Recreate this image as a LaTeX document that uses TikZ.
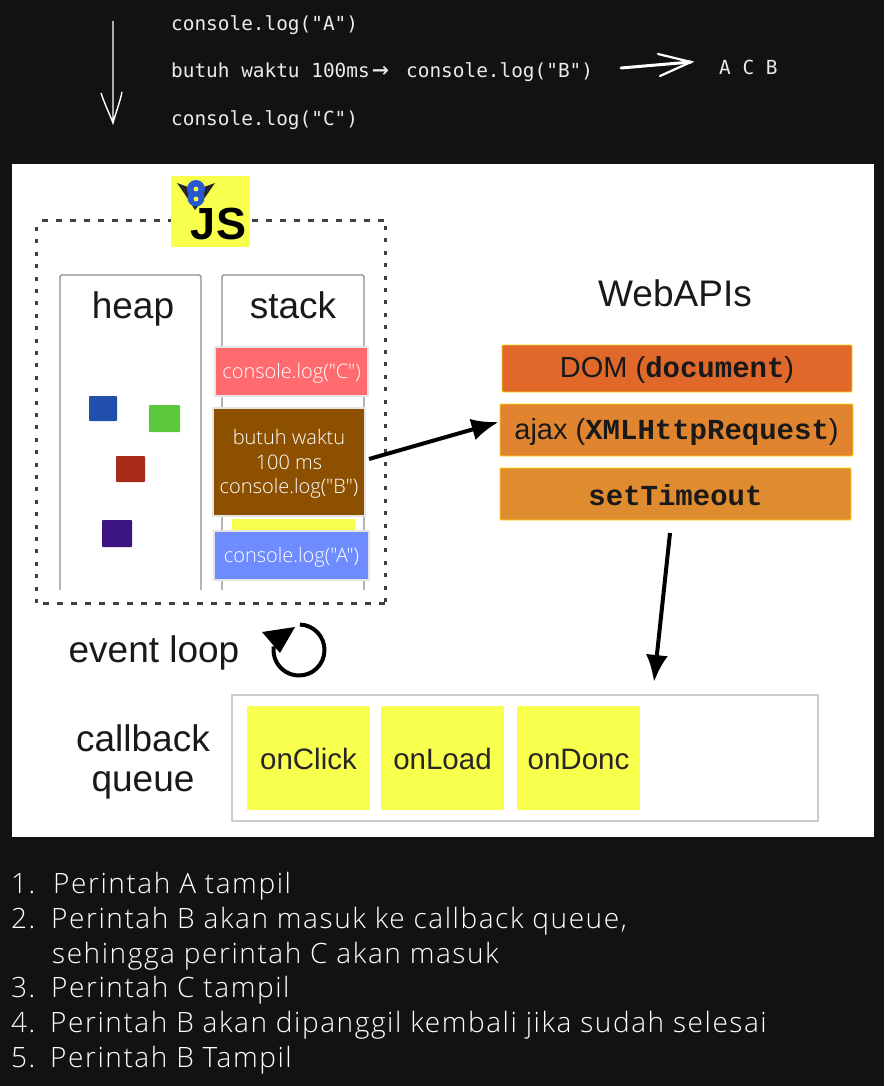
\documentclass[tikz,border=0pt]{standalone}
\usepackage{fontspec}
\setmainfont{Liberation Sans}
\newfontfamily\codefont{DejaVu Sans Mono}
\newfontfamily\hand[LetterSpace=5.6]{Open Sans Light}
\newfontfamily\handtight{Open Sans Light}
\newfontfamily\boldmono{Liberation Mono Bold}
\usetikzlibrary{arrows.meta}
\definecolor{bgdark}{HTML}{121212}
\definecolor{jsyellow}{HTML}{F8FF4C}
\definecolor{cred}{HTML}{FF6B6E}
\definecolor{cbrown}{HTML}{8C5000}
\definecolor{cblue}{HTML}{6E8CFF}
\definecolor{apia}{HTML}{E0682A}
\definecolor{apib}{HTML}{E0842F}
\definecolor{apic}{HTML}{DF8B30}
\definecolor{sqblue}{HTML}{2050AC}
\definecolor{sqgreen}{HTML}{5CC83C}
\definecolor{sqred}{HTML}{A82A18}
\definecolor{sqviolet}{HTML}{3C1480}
\definecolor{batblue}{HTML}{2858D0}
\tikzset{
  code/.style={anchor=base west,text=white!92!black,font=\codefont\fontsize{19.4}{22}\selectfont,inner sep=0pt},
  hw/.style={anchor=base west,text=white,font=\hand\fontsize{28}{32}\selectfont,inner sep=0pt},
  lab/.style={text=black!90,inner sep=0pt,anchor=base,font=\fontsize{37}{38}\selectfont},
  stackbox/.style={draw=black!10,line width=1.5pt,inner sep=0pt},
  stacktext/.style={text=white,align=center,inner sep=0pt,font=\handtight\fontsize{20}{24.5}\selectfont},
  api/.style={draw=yellow!75!orange,line width=.8pt,rounded corners=1pt,inner sep=0pt},
  apitext/.style={text=black!90,inner sep=0pt,font=\fontsize{29}{30}\selectfont},
  cb/.style={fill=jsyellow,inner sep=0pt,text=black!85,font=\fontsize{29.5}{30}\selectfont},
  tile/.style={inner sep=0pt,rounded corners=.8pt},
  blk/.style={line width=4pt,draw=black,-{Latex[length=27pt,width=22pt]}}
}
\newcommand{\numbox}[1]{\makebox[#1pt][l]}
\begin{document}
\begin{tikzpicture}[x=1pt,y=-1pt]
\useasboundingbox (0,0) rectangle (884,1086);
\fill[bgdark] (0,0) rectangle (884,1086);
\fill[white] (12,164) rectangle (874,837);
% top
\node[code] (ca) at (171,30.5) {console.log("A")};
\node[code] (cb1) at (171,77.5) {butuh waktu 100ms};
\node[code,font=\codefont\fontsize{28}{28}\selectfont] (cb2) at (372,78.5) {→};
\node[code] (cb3) at (406,77.5) {console.log("B")};
\node[code] (cc) at (171,125.5) {console.log("C")};
\node[code] (res) at (719,75) {A C B};
\coordinate (t1) at (113,21); \coordinate (t2) at (113,123);
\draw[white,line width=1.4pt] (t1) -- (t2) (101,93) .. controls (105,105) and (110,115) .. (t2) .. controls (116,112) and (120,102) .. (122,92);
\coordinate (r1) at (621,68); \coordinate (r2) at (691,62);
\draw[white,line width=3pt,line cap=round] (r1) -- (r2);
\draw[white,line width=2.2pt,line cap=round] (658,54) -- (r2) -- (660,76);
% JS container
\draw[black!75,line width=3pt,dash pattern=on 6pt off 8pt] (42,220) -- (385,220);
\draw[black!75,line width=3pt,dash pattern=on 6pt off 8pt] (385,603) -- (36,603);
\draw[black!75,line width=3pt,dash pattern=on 4pt off 8.4pt] (36,603) -- (36,226);
\draw[black!75,line width=3pt,dash pattern=on 4pt off 8.4pt] (385,226) -- (385,603);
\node[fill=jsyellow,minimum width=79pt,minimum height=71pt,inner sep=0pt] (js) at (210.5,211.5) {};
\node[font=\bfseries\fontsize{45}{45}\selectfont,inner sep=0pt] (jst) at (218.5,224) {JS};
\fill[black!85] (177,183) -- (188,187) -- (204,187) -- (215,183) -- (206,196) -- (195,210) -- (186,196) -- cycle;
\fill[batblue] (196,189) circle (9pt) (196,198) circle (8.5pt);
\fill[jsyellow] (196,189) circle (2.4pt) (196,199) circle (2.4pt);
% heap and stack
\draw[black!45,line width=1.3pt,rounded corners=1.5pt] (60,590) |- (201,275) -- (201,590);
\draw[black!45,line width=1.3pt,rounded corners=1.5pt] (222,590) |- (364,275) -- (364,590);
\node[lab] (heap) at (133,318) {heap};
\node[lab] (stack) at (293,318) {stack};
\node[tile,fill=sqblue,minimum width=28pt,minimum height=25pt] (s1) at (103,408.5) {};
\node[tile,fill=sqgreen,minimum width=31pt,minimum height=27pt] (s2) at (164.5,418.5) {};
\node[tile,fill=sqred,minimum width=29pt,minimum height=26pt] (s3) at (130.5,469) {};
\node[tile,fill=sqviolet,minimum width=30pt,minimum height=27pt] (s4) at (117,533.5) {};
\node[stackbox,fill=cred,minimum width=153pt,minimum height=49pt] (sc) at (291.5,371.5) {};
\node[stacktext] (sct) at ([yshift=-2pt]sc.center) {console.log("C")};
\node[inner sep=0pt,fill=jsyellow,minimum width=123pt,minimum height=14pt] (sy) at (293.5,526) {};
\node[stackbox,fill=cbrown,minimum width=152pt,minimum height=108pt] (sb) at (289,462) {};
\node[stacktext] (sbt) at ([yshift=-2pt]sb.center) {butuh waktu\\100 ms\\console.log("B")};
\node[stackbox,fill=cblue,minimum width=155pt,minimum height=49pt] (sa) at (291.5,555.5) {};
\node[stacktext] (sat) at ([yshift=-2pt]sa.center) {console.log("A")};
% web apis
\node[lab] (web) at (675,306) {WebAPIs};
\node[api,fill=apia,minimum width=350pt,minimum height=47pt] (dom) at (677,368.5) {};
\node[apitext] (domt) at ([yshift=-1.5pt]dom.center) {DOM ({\boldmono document})};
\node[api,fill=apib,minimum width=353pt,minimum height=52pt] (ajax) at (676.5,430) {};
\node[apitext] (ajaxt) at ([yshift=-2pt]ajax.center) {ajax ({\boldmono XMLHttpRequest})};
\node[api,fill=apic,minimum width=351pt,minimum height=52pt] (st) at (675.5,494) {};
\node[apitext] (stt) at ([yshift=-1pt]st.center) {\boldmono setTimeout};
% event loop
\node[lab] (ev) at (154,662) {event loop};
\coordinate (loopc) at (299,650);
\draw[black,line width=4pt] (loopc) ++(88:25.5pt) arc[start angle=88,end angle=-188,radius=25.5pt];
\fill[black] (262,632) -- (295,627) -- (280,653) -- cycle;
% callback
\node[lab,align=center,font=\fontsize{37}{40}\selectfont,anchor=center] (cq) at (143,762) {callback\\queue};
\node[draw=black!20,line width=1.4pt,fill=white,minimum width=586pt,minimum height=126pt,inner sep=0pt] (qbox) at (525,758) {};
\node[cb,minimum width=123pt,minimum height=104pt] (c1) at (308.5,758) {};
\node[cb,minimum width=123pt,minimum height=104pt] (c2) at (442.5,758) {};
\node[cb,minimum width=123pt,minimum height=104pt] (c3) at (578.5,758) {};
\node[cb,fill=none] (c1t) at ([yshift=-1pt]c1.center) {onClick};
\node[cb,fill=none] (c2t) at ([yshift=-1pt]c2.center) {onLoad};
\node[cb,fill=none] (c3t) at ([yshift=-1pt]c3.center) {onDonc};
% arrows
\coordinate (ae) at (369,459);
\coordinate (de) at (670,533);
\coordinate (df) at (654,682);
\draw[blk] (ae) -- ([yshift=8pt,xshift=-1pt]ajax.west);
\draw[blk] (de) -- (df);
% list
\node[hw] (l1) at (11,893) {\numbox{42}{1.}Perintah A tampil};
\node[hw] (l2) at (11,928) {\numbox{40}{2.}Perintah B akan masuk ke callback queue,};
\node[hw] (l2b) at (52,963) {sehingga perintah C akan masuk};
\node[hw] (l3) at (11,997) {\numbox{40}{3.}Perintah C tampil};
\node[hw] (l4) at (11,1032) {\numbox{39}{4.}Perintah B akan dipanggil kembali jika sudah selesai};
\node[hw] (l5) at (11,1067) {\numbox{39}{5.}Perintah B Tampil};
\end{tikzpicture}
\end{document}
